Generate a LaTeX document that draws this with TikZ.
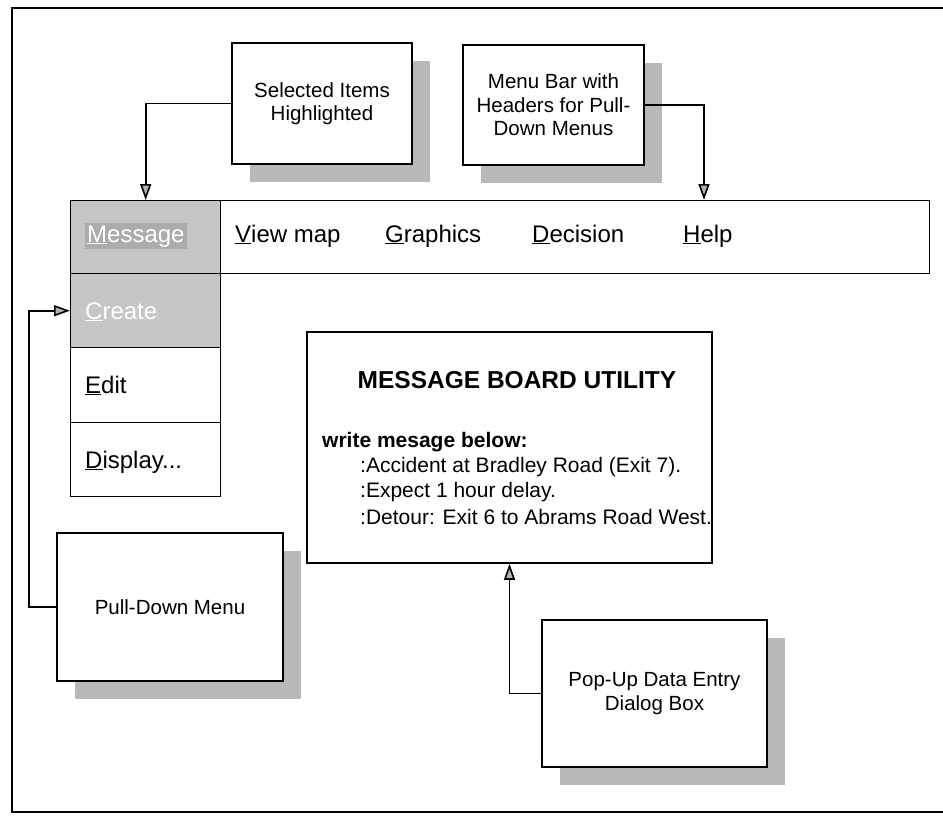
\documentclass[tikz,border=0pt]{standalone}
\usepackage{fontspec}
\setmainfont{Liberation Sans}
\usetikzlibrary{arrows.meta, positioning, shadows}

\begin{document}
\begin{tikzpicture}[x=1pt, y=-1pt,
  callout/.style={draw, line width=1.6pt, fill=white, align=center, inner sep=2pt,
    font=\fontsize{20.5}{23.5}\selectfont,
    drop shadow={shadow xshift=18pt, shadow yshift=-18pt, fill=gray!55, opacity=1}},
  cell/.style={draw, line width=1.4pt, minimum width=150pt, minimum height=74pt,
    inner sep=0pt, anchor=north west},
  hilite/.style={cell, fill=gray!45},
  menutext/.style={font=\fontsize{24}{28}\selectfont, inner sep=0pt, anchor=base west},
  boardtext/.style={font=\fontsize{21}{25}\selectfont, inner sep=0pt, anchor=west},
  link/.style={line width=1.6pt, -{Triangle[length=16pt, width=11pt, fill=gray!60]}}
]
  \useasboundingbox (0,0) rectangle (943,823);

  % Frame
  \draw[line width=1.6pt] (943,8) -- (12,8) -- (12,812) -- (943,812);

  % Callouts
  \node[callout, minimum width=180pt, minimum height=121pt] (sel) at (322,103.5)
    {Selected Items\\Highlighted};
  \node[callout, minimum width=181pt, minimum height=120pt] (mbar) at (553.5,105)
    {Menu Bar with\\Headers for Pull-\\Down Menus};
  \node[callout, minimum width=226pt, minimum height=148pt] (pdm) at (170,607)
    {Pull-Down Menu};
  \node[callout, minimum width=225pt, minimum height=147pt] (popup) at (654.5,693.5)
    {Pop-Up Data Entry\\Dialog Box};

  % Menu bar
  \node[draw, line width=1.4pt, minimum width=859pt, minimum height=73pt,
    inner sep=0pt, anchor=north west] (bar) at (70,200) {};
  \node[hilite, minimum height=73pt] (msg) at (70,200) {};
  \node[menutext, text=white, fill=gray!65, inner sep=2pt] (msgtxt)
    at (85,242) {\underline{M}essage};
  \node[menutext] (view) at (235,242) {\underline{V}iew map};
  \node[menutext] (graph) at (385,242) {\underline{G}raphics};
  \node[menutext] (decide) at (532,242) {\underline{D}ecision};
  \node[menutext] (help) at (683,242) {\underline{H}elp};
  \coordinate (helptop) at (704,200);

  % Pull-down menu
  \node[hilite] (create) at (70,273) {};
  \node[cell, minimum height=75pt] (edit) at (70,347) {};
  \node[cell] (display) at (70,422) {};
  \node[menutext, text=white] (createtxt) at (85,319) {\underline{C}reate};
  \node[menutext] (edittxt) at (85,393) {\underline{E}dit};
  \node[menutext] (disptxt) at (85,468) {\underline{D}isplay...};

  % Message board
  \node[draw, line width=1.6pt, minimum width=405pt, minimum height=231pt] (board)
    at (509.5,447.5) {};
  \node[font=\fontsize{24.5}{28}\selectfont\bfseries, inner sep=0pt] (title)
    at (517,380) {MESSAGE BOARD UTILITY};
  \node[boardtext, font=\fontsize{21}{25}\selectfont\bfseries] (prompt)
    at (322,442) {write mesage below:};
  \node[boardtext] (line1) at (360,467) {:Accident at Bradley Road (Exit 7).};
  \node[boardtext] (line2) at (360,492) {:Expect 1 hour delay.};
  \node[boardtext] (line3) at (360,517) {:Detour: Exit 6 to Abrams Road West.};

  % Connectors
  \draw[link] (sel.west) -| (msg.north);
  \draw[link] (mbar.east) -| (helptop);
  \draw[link] (pdm.west) -- ++(-27,0) |- (create.west);
  \draw[link] (popup.west) -| (board.south);
\end{tikzpicture}
\end{document}
